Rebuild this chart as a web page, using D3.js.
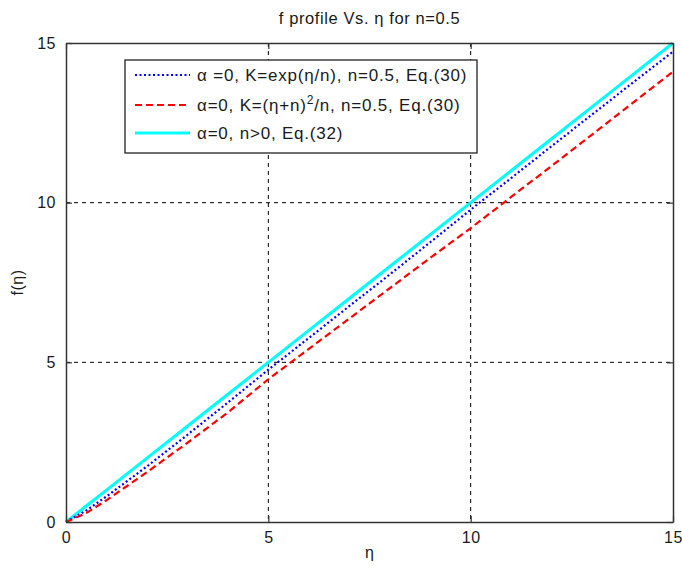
<!DOCTYPE html>
<html>
<head>
<meta charset="utf-8">
<script src="https://cdn.jsdelivr.net/npm/d3@7"></script>
<style>
  body { margin: 0; background: #fff; }
  svg text { font-family: "Liberation Sans", Arial, sans-serif; fill: #1a1a1a; }
</style>
</head>
<body>
<svg id="chart" width="682" height="574"></svg>
<script>
// eta values sampled along the horizontal axis
const eta = [0, 0.5, 1, 1.5, 2, 3, 4, 5, 6, 7, 8, 9, 10, 11, 12, 13, 14, 15];
// f(eta) for K = exp(eta/n), n = 0.5, Eq.(30)
const fExp = [0, 0.36, 0.80, 1.27, 1.74, 2.73, 3.74, 4.77, 5.76, 6.76, 7.75, 8.76, 9.78, 10.77, 11.77, 12.76, 13.75, 14.73];
// f(eta) for K = (eta+n)^2/n, n = 0.5, Eq.(30)
const fPoly = [0, 0.28, 0.68, 1.12, 1.56, 2.48, 3.43, 4.47, 5.42, 6.37, 7.32, 8.27, 9.20, 10.18, 11.15, 12.13, 13.12, 14.10];
// f(eta) for n > 0, Eq.(32)
const fLin = [0, 0.5, 1, 1.5, 2, 3, 4, 5, 6, 7, 8, 9, 10, 11, 12, 13, 14, 15];
const xTicks = [0, 5, 10, 15];
const yTicks = [0, 5, 10, 15];

const svg = d3.select("#chart");
const plotL = 66, plotR = 673, plotT = 43, plotB = 522;

const x = d3.scaleLinear().domain([0, 15]).range([plotL, plotR]);
const y = d3.scaleLinear().domain([0, 15]).range([plotB, plotT]);

// dashed grid at interior ticks
const grid = svg.append("g");
grid.selectAll("line.gx").data(xTicks.slice(1, -1)).join("line")
  .attr("x1", d => x(d)).attr("x2", d => x(d))
  .attr("y1", plotT).attr("y2", plotB)
  .attr("stroke", "#000").attr("stroke-width", 1).attr("stroke-dasharray", "4,4");
grid.selectAll("line.gy").data(yTicks.slice(1, -1)).join("line")
  .attr("y1", d => y(d)).attr("y2", d => y(d))
  .attr("x1", plotL).attr("x2", plotR)
  .attr("stroke", "#000").attr("stroke-width", 1).attr("stroke-dasharray", "4,4");

// curves
const line = ys => d3.line().x((d, i) => x(eta[i])).y(d => y(d))(ys);
svg.append("path").attr("d", line(fLin)).attr("fill", "none")
  .attr("stroke", "#00ffff").attr("stroke-width", 3);
svg.append("path").attr("d", line(fExp)).attr("fill", "none")
  .attr("stroke", "#0000ff").attr("stroke-width", 2.2).attr("stroke-dasharray", "2,2.5");
svg.append("path").attr("d", line(fPoly)).attr("fill", "none")
  .attr("stroke", "#ff0000").attr("stroke-width", 2.2).attr("stroke-dasharray", "7,4");

// axes with inward ticks on all four sides
const axisStyle = g => {
  g.select(".domain").attr("stroke", "#333").attr("stroke-width", 1.5);
  g.selectAll(".tick line").attr("stroke", "#333").attr("stroke-width", 1.2);
  g.selectAll(".tick text").attr("font-size", 16).attr("fill", "#1a1a3a")
    .attr("letter-spacing", 0.5)
    .style("font-family", "'Liberation Sans', Arial, sans-serif");
};
svg.append("g").attr("transform", `translate(0,${plotB})`)
  .call(d3.axisBottom(x).tickValues(xTicks).tickSize(-6).tickSizeOuter(0).tickPadding(10))
  .call(axisStyle);
svg.append("g").attr("transform", `translate(0,${plotT})`)
  .call(d3.axisTop(x).tickValues(xTicks).tickSize(-6).tickSizeOuter(0).tickFormat(""))
  .call(axisStyle);
svg.append("g").attr("transform", `translate(${plotL},0)`)
  .call(d3.axisLeft(y).tickValues(yTicks).tickSize(-6).tickSizeOuter(0).tickPadding(10))
  .call(axisStyle);
svg.append("g").attr("transform", `translate(${plotR},0)`)
  .call(d3.axisRight(y).tickValues(yTicks).tickSize(-6).tickSizeOuter(0).tickFormat(""))
  .call(axisStyle);

// title and axis labels
svg.append("text").attr("x", (plotL + plotR) / 2).attr("y", 24)
  .attr("text-anchor", "middle").attr("font-size", 16.5).attr("letter-spacing", 0.6)
  .text("f profile Vs. η for n=0.5");
svg.append("text").attr("x", (plotL + plotR) / 2).attr("y", 558)
  .attr("text-anchor", "middle").attr("font-size", 16).text("η");
svg.append("text").attr("transform", `translate(23,${(plotT + plotB) / 2}) rotate(-90)`)
  .attr("text-anchor", "middle").attr("font-size", 16).attr("letter-spacing", 0.5).text("f(η)");

// legend
const legend = svg.append("g");
legend.append("rect").attr("x", 125).attr("y", 60).attr("width", 352).attr("height", 93)
  .attr("fill", "#fff").attr("stroke", "#222").attr("stroke-width", 1.3);
const items = [
  { color: "#0000ff", dash: "2,2.5", width: 2.2, text: ["α =0, K=exp(η/n), n=0.5, Eq.(30)"] },
  { color: "#ff0000", dash: "7,4", width: 2.2, text: ["α=0, K=(η+n)", "2", "/n, n=0.5, Eq.(30)"] },
  { color: "#00ffff", dash: null, width: 3, text: ["α=0, n>0, Eq.(32)"] }
];
const rowY = [80, 110, 138];
items.forEach((it, i) => {
  legend.append("line").attr("x1", 135).attr("x2", 190)
    .attr("y1", rowY[i] - 5).attr("y2", rowY[i] - 5)
    .attr("stroke", it.color).attr("stroke-width", it.width)
    .attr("stroke-dasharray", it.dash);
  const t = legend.append("text").attr("x", 197).attr("y", rowY[i] + 1)
    .attr("font-size", 17).attr("letter-spacing", 0.8);
  if (it.text.length === 1) {
    t.text(it.text[0]);
  } else {
    t.append("tspan").text(it.text[0]);
    t.append("tspan").attr("dy", -7).attr("font-size", 12).text(it.text[1]);
    t.append("tspan").attr("dy", 7).text(it.text[2]);
  }
});
</script>
</body>
</html>
